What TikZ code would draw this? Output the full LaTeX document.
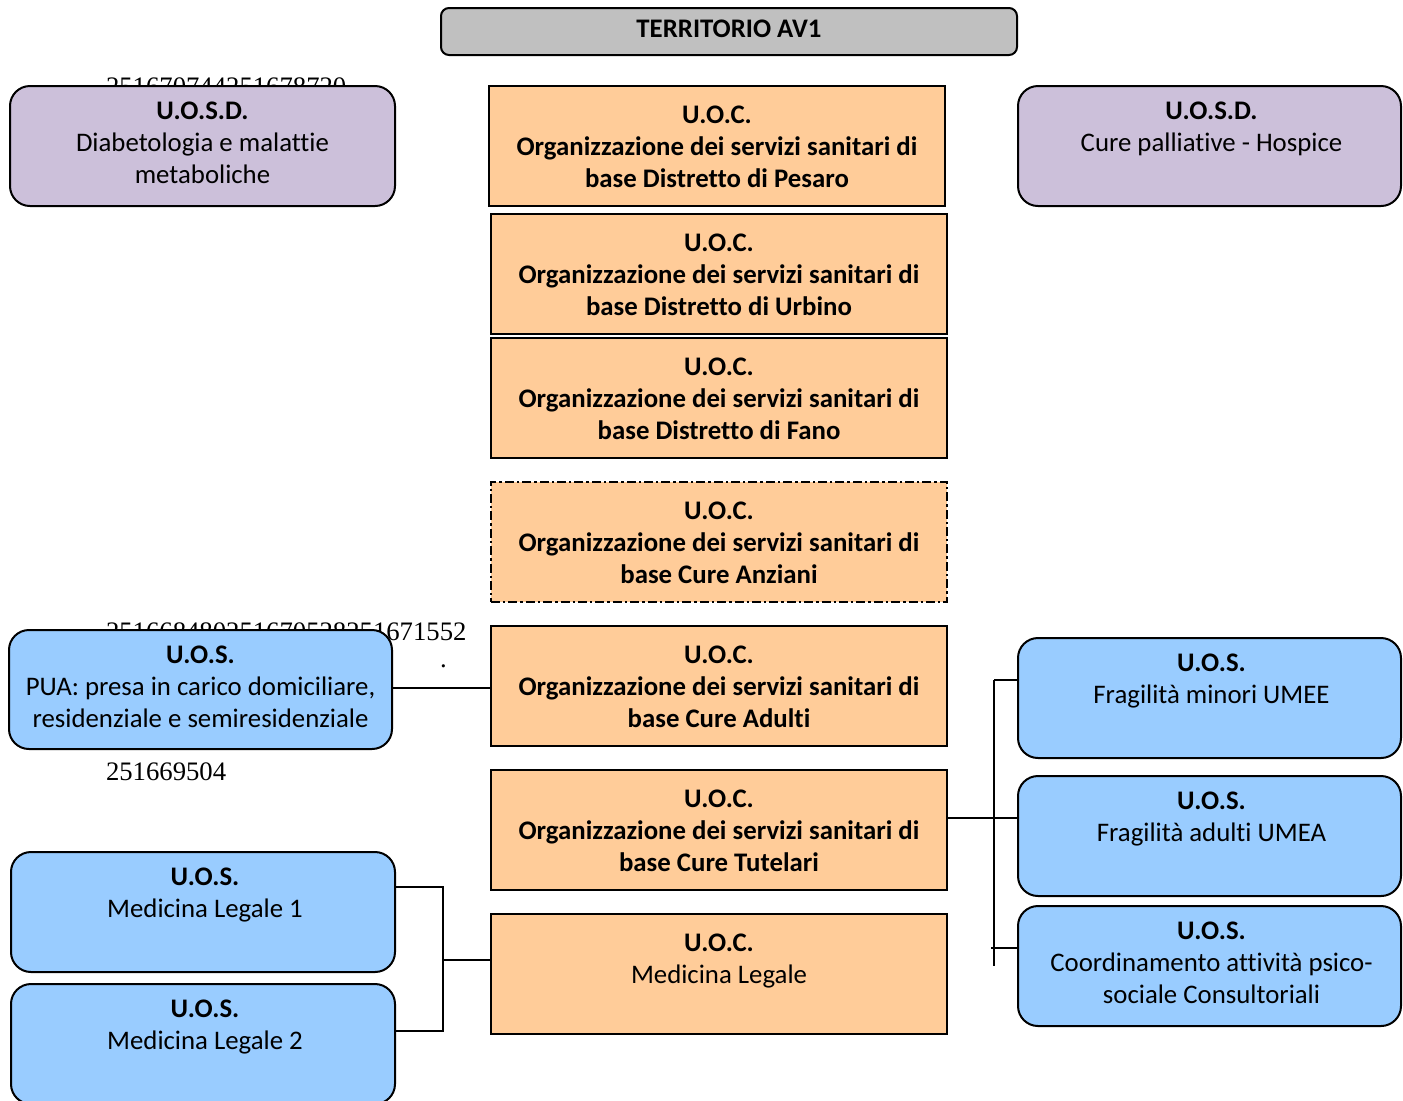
\documentclass[tikz,border=0pt]{standalone}
\usepackage{fontspec}
\setmainfont{Carlito}[Ligatures=NoCommon]
\newfontfamily\numfont{Liberation Serif}
\begin{document}
\begin{tikzpicture}[x=0.5pt,y=-0.5pt,
  every node/.style={inner sep=0pt, outer sep=0pt},
  boxbase/.style={draw=black, line width=1pt},
  terrbox/.style={boxbase, fill=terrgray, rounded corners=4pt, minimum width=288pt, minimum height=23.5pt},
  uosdbox/.style={boxbase, fill=lav, rounded corners=10pt, minimum width=191.5pt, minimum height=60pt},
  uocbox/.style={boxbase, fill=peach, minimum width=228pt, minimum height=60pt},
  uosbox/.style={boxbase, fill=sky, rounded corners=10pt, minimum width=191.5pt, minimum height=60pt},
  txt/.style={anchor=north, align=center, font=\fontsize{13.4}{16}\selectfont},
  btxt/.style={txt, font=\fontsize{13.4}{16}\selectfont\bfseries},
  uoctxt/.style={yshift=-9.9pt},
  rtxt/.style={yshift=-8.2pt},
  numtxt/.style={anchor=base west, font=\numfont\fontsize{13.35}{15}\selectfont},
  conn/.style={draw=black, line width=0.8pt}
]
\definecolor{terrgray}{HTML}{C0C0C0}
\definecolor{lav}{HTML}{CCC0DA}
\definecolor{peach}{HTML}{FFCC99}
\definecolor{sky}{HTML}{99CCFF}
\useasboundingbox (0,0) rectangle (1403,1100);
\clip (0,0) rectangle (1403,1100);

% stray numbers behind boxes
\node[numtxt] (num1) at (106,95) {251670744251678720};
\node[numtxt] (num2) at (106,640) {251668480251670528251671552};
\node[numtxt] (num3) at (106,780) {251669504};
\node[numtxt] (dot) at (440,667) {.};

% top
\node[terrbox] (terr) at (729,31.5) {};
\node[anchor=center, font=\fontsize{13.4}{16}\selectfont\bfseries] (terrt) at (729,28.5) {TERRITORIO AV1};

% UOSD
\node[uosdbox, minimum width=192.5pt] (dleft) at (202.5,146) {};
\node[txt, rtxt] (dleftt) at (dleft.north) {\textbf{U.O.S.D.}\\Diabetologia e malattie\\metaboliche};
\node[uosdbox] (dright) at (1209.5,146) {};
\node[txt, rtxt] (drightt) at ([xshift=1pt]dright.north) {\textbf{U.O.S.D.}\\Cure palliative - Hospice};

% UOC column
\node[uocbox] (pesaro) at (717,146) {};
\node[btxt, uoctxt] (pesarot) at (pesaro.north) {U.O.C.\\Organizzazione dei servizi sanitari di\\base Distretto di Pesaro};
\node[uocbox] (urbino) at (719,274) {};
\node[btxt, uoctxt] (urbinot) at (urbino.north) {U.O.C.\\Organizzazione dei servizi sanitari di\\base Distretto di Urbino};
\node[uocbox] (fano) at (719,398) {};
\node[btxt, uoctxt] (fanot) at (fano.north) {U.O.C.\\Organizzazione dei servizi sanitari di\\base Distretto di Fano};
\node[uocbox, dash pattern=on 4.5pt off 1.5pt on 1.2pt off 1.5pt] (anziani) at (719,542) {};
\node[btxt, uoctxt] (anzianit) at (anziani.north) {U.O.C.\\Organizzazione dei servizi sanitari di\\base Cure Anziani};
\node[uocbox] (adulti) at (719,686) {};
\node[btxt, uoctxt] (adultit) at (adulti.north) {U.O.C.\\Organizzazione dei servizi sanitari di\\base Cure Adulti};
\node[uocbox] (tutelari) at (719,830) {};
\node[btxt, uoctxt] (tutelarit) at (tutelari.north) {U.O.C.\\Organizzazione dei servizi sanitari di\\base Cure Tutelari};
\node[uocbox] (legale) at (719,974) {};
\node[txt, uoctxt] (legalet) at (legale.north) {\textbf{U.O.C.}\\Medicina Legale};

% left UOS
\node[uosbox, minimum height=59.5pt] (pua) at (200.5,689.5) {};
\node[txt, rtxt] (puat) at (pua.north) {\textbf{U.O.S.}\\PUA: presa in carico domiciliare,\\residenziale e semiresidenziale};
\node[uosbox, minimum width=192pt] (ml1) at (203,912) {};
\node[txt, rtxt] (ml1t) at ([xshift=1pt]ml1.north) {\textbf{U.O.S.}\\Medicina Legale 1};
\node[uosbox, minimum width=192pt] (ml2) at (203,1044) {};
\node[txt, rtxt] (ml2t) at ([xshift=1pt]ml2.north) {\textbf{U.O.S.}\\Medicina Legale 2};

% right UOS
\node[uosbox] (fmin) at (1209.5,698) {};
\node[txt, rtxt] (fmint) at ([xshift=1pt]fmin.north) {\textbf{U.O.S.}\\Fragilità minori UMEE};
\node[uosbox] (fadu) at (1209.5,836) {};
\node[txt, rtxt] (fadut) at ([xshift=1pt]fadu.north) {\textbf{U.O.S.}\\Fragilità adulti UMEA};
\node[uosbox] (coord) at (1209.5,966) {};
\node[txt, rtxt] (coordt) at ([xshift=1pt]coord.north) {\textbf{U.O.S.}\\Coordinamento attività psico-\\sociale Consultoriali};

% connectors
\draw[conn] (pua.east |- 0,688) -- (adulti.west |- 0,688);

\coordinate (rtop) at (994,680);
\coordinate (rbot) at (994,966);
\coordinate (rmid) at (994,818);
\coordinate (rlow) at (991,948);
\draw[conn] (rtop) -- (rbot);
\draw[conn] (rtop) -- (fmin.west |- rtop);
\draw[conn] (tutelari.east |- rmid) -- (fadu.west |- rmid);
\draw[conn] (rlow) -- (coord.west |- rlow);

\coordinate (mtop) at (443,887);
\coordinate (mbot) at (443,1031);
\coordinate (mmid) at (443,960);
\draw[conn] (ml1.east |- mtop) -- (mtop) -- (mbot) -- (ml2.east |- mbot);
\draw[conn] (mmid) -- (legale.west |- mmid);
\end{tikzpicture}
\end{document}
